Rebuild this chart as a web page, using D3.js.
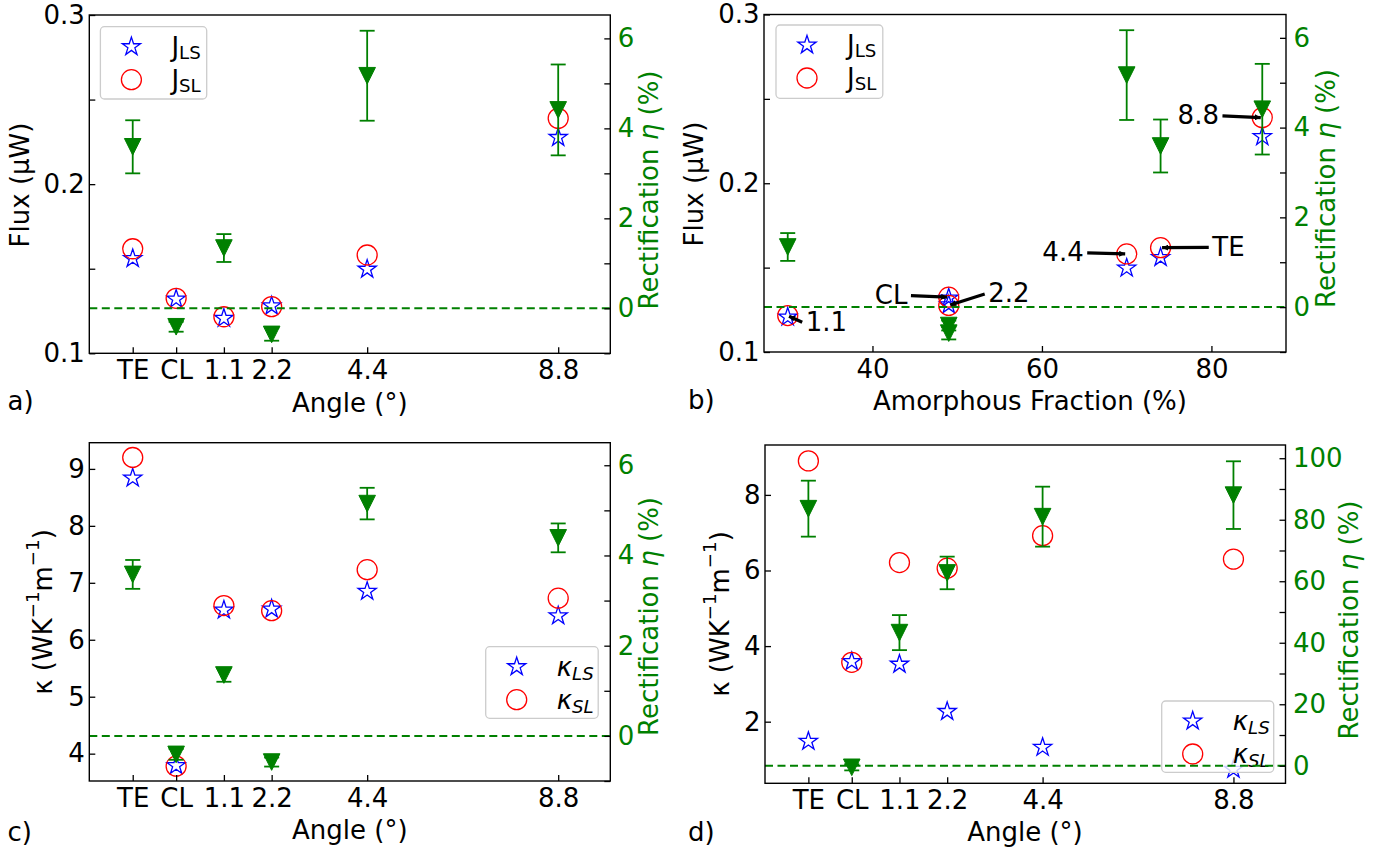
<!DOCTYPE html>
<html><head><meta charset="utf-8">
<script src="https://cdn.jsdelivr.net/npm/d3@7"></script>
<style>body{margin:0;background:#fff} svg text{font-family:"DejaVu Sans",sans-serif}</style>
</head><body><svg id="fig" width="1393" height="857"></svg>
<script>
// ---------------- data ----------------
const categories = ["TE", "CL", "1.1", "2.2", "4.4", "8.8"];
const anglePos = [-1, 0, 1.1, 2.2, 4.4, 8.8];
const amorphousFraction = [74, 49, 30, 49, 70, 86];
const amorphousTicks = [40, 60, 80];

const fluxLS = [0.156, 0.132, 0.1207, 0.128, 0.1497, 0.2276];
const fluxSL = [0.1618, 0.1325, 0.1216, 0.1276, 0.1581, 0.2389];
const rectFlux = [3.59, -0.41, 1.34, -0.58, 5.17, 4.41];
const rectFluxErr = [0.59, 0.11, 0.31, 0.14, 1.0, 1.01];

const kappaLS_c = [8.84, 3.79, 6.52, 6.54, 6.85, 6.42];
const kappaSL_c = [9.2, 3.78, 6.6, 6.51, 7.23, 6.73];
const rectKappa_c = [3.58, -0.41, 1.35, -0.58, 5.15, 4.39];
const rectKappaErr_c = [0.32, 0.12, 0.15, 0.1, 0.35, 0.32];

const kappaLS_d = [1.48, 3.59, 3.52, 2.27, 1.32, 0.74];
const kappaSL_d = [8.9, 3.57, 6.21, 6.06, 6.92, 6.3];
const rectKappa_d = [83.6, -0.5, 43.3, 62.7, 81, 88];
const rectKappaErr_d = [9.1, 1, 5.7, 5.3, 9.75, 11];

const fluxTicks = [0.1, 0.15, 0.2, 0.25, 0.3];
const rectTicks = [-1, 0, 1, 2, 3, 4, 5, 6];
const kappaTicks_c = [4, 5, 6, 7, 8, 9];
const kappaTicks_d = [2, 4, 6, 8];
const rectTicks_d = [0, 10, 20, 30, 40, 50, 60, 70, 80, 90, 100];

// annotations in panel b (label, text position in data coords like matplotlib xytext)
const annotations = [
  {cat: "8.8", tx: 80.89, ty: 0.2405, anchor: "end"},
  {cat: "TE",  tx: 80.1,  ty: 0.1626, anchor: "start"},
  {cat: "4.4", tx: 64.93, ty: 0.1593, anchor: "end"},
  {cat: "CL",  tx: 44.13, ty: 0.134,  anchor: "end"},
  {cat: "2.2", tx: 53.66, ty: 0.135,  anchor: "start"},
  {cat: "1.1", tx: 32.12, ty: 0.1182, anchor: "start"}
];

// ---------------- style / layout ----------------
const FS = 26;
const GREEN = "#008000", BLUE = "#0000ff", RED = "#ff0000";
const svg = d3.select("#fig");

svg.append("defs").append("marker")
  .attr("id", "ah").attr("viewBox", "0 -3 6 6").attr("refX", 6).attr("refY", 0)
  .attr("markerWidth", 6).attr("markerHeight", 6).attr("markerUnits", "userSpaceOnUse")
  .attr("orient", "auto")
  .append("path").attr("d", "M0,-3L6,0L0,3Z").attr("fill", "#000");

function starPath(R) {
  const pts = [];
  for (let i = 0; i < 10; i++) {
    const a = -Math.PI / 2 + i * Math.PI / 5;
    const r = i % 2 ? R * 0.381966 : R;
    pts.push([r * Math.cos(a), r * Math.sin(a)]);
  }
  return "M" + pts.map(p => p[0].toFixed(2) + "," + p[1].toFixed(2)).join("L") + "Z";
}
const STAR = starPath(9.6);
const TRI = "M-8.3,-8.3L8.3,-8.3L0,8.3Z";

function addRich(t, parts) {
  let shift = 0;
  parts.forEach(p => {
    const ts = t.append("tspan").text(p.t);
    let target = 0;
    if (p.sup) { target = -13; ts.attr("font-size", FS * 0.7); }
    if (p.sub) { target = p.sub; ts.attr("font-size", FS * 0.7); }
    if (p.it) ts.attr("font-style", "italic");
    if (target !== shift) { ts.attr("dy", target - shift); shift = target; }
  });
}

function styleAxis(sel, color) {
  sel.attr("font-family", null).attr("font-size", null);
  sel.select(".domain").remove();
  sel.selectAll(".tick line").attr("stroke", "#000").attr("stroke-width", 1.3);
  sel.selectAll(".tick text").attr("font-size", FS).attr("fill", color);
}

function drawPanel(c) {
  const B = c.box;
  const g = svg.append("g");
  const x = d3.scaleLinear().domain(c.xDomain).range([B.l, B.r]);
  const yL = d3.scaleLinear().domain(c.yLDomain).range([B.b, B.t]);
  const yR = d3.scaleLinear().domain(c.yRDomain).range([B.b, B.t]);
  const idx = d3.range(categories.length);

  // left-axis series
  g.append("g").selectAll("path").data(idx).join("path")
    .attr("d", STAR).attr("transform", i => `translate(${x(c.xv[i])},${yL(c.ls[i])})`)
    .attr("fill", "none").attr("stroke", BLUE).attr("stroke-width", 1.3);
  g.append("g").selectAll("circle").data(idx).join("circle")
    .attr("cx", i => x(c.xv[i])).attr("cy", i => yL(c.sl[i])).attr("r", 10)
    .attr("fill", "none").attr("stroke", RED).attr("stroke-width", 1.3);

  // annotations
  if (c.annot) {
    c.annot.forEach(a => {
      const i = categories.indexOf(a.cat);
      const px = x(c.xv[i]), py = yL(c.sl[i]);
      const tx = x(a.tx), ty = yL(a.ty);
      const t = g.append("text").attr("x", tx).attr("y", ty + 9.5)
        .attr("text-anchor", a.anchor).attr("font-size", FS).attr("fill", "#000").text(a.cat);
      const sx = a.anchor === "end" ? tx + 3.5 : tx - 3.5;
      const sy = ty + 1;
      const dx = px - sx, dy = py - sy, L = Math.hypot(dx, dy);
      const ex = px - dx / L * 1.5, ey = py - dy / L * 1.5;
      g.append("line").attr("x1", sx).attr("y1", sy).attr("x2", ex).attr("y2", ey)
        .attr("stroke", "#000").attr("stroke-width", 3.2).attr("marker-end", "url(#ah)");
    });
  }

  // legend
  const Lg = c.legend;
  const lg = g.append("g");
  lg.append("rect").attr("x", Lg.x).attr("y", Lg.y).attr("width", Lg.w).attr("height", Lg.h)
    .attr("rx", 4).attr("fill", "#fff").attr("fill-opacity", 0.8)
    .attr("stroke", "#cccccc").attr("stroke-width", 1.3);
  lg.append("path").attr("d", STAR).attr("transform", `translate(${Lg.x + 31},${Lg.y + 20})`)
    .attr("fill", "none").attr("stroke", BLUE).attr("stroke-width", 1.3);
  lg.append("circle").attr("cx", Lg.x + 31).attr("cy", Lg.y + 53).attr("r", 10)
    .attr("fill", "none").attr("stroke", RED).attr("stroke-width", 1.3);
  c.legendLabels.forEach((parts, k) => {
    const t = lg.append("text").attr("x", Lg.x + 71).attr("y", Lg.y + 20 + 33 * k + 9)
      .attr("font-size", FS).attr("fill", "#000");
    addRich(t, parts);
  });

  // right-axis series (twin axes drawn on top)
  g.append("line").attr("x1", B.l).attr("x2", B.r).attr("y1", yR(0)).attr("y2", yR(0))
    .attr("stroke", GREEN).attr("stroke-width", 2).attr("stroke-dasharray", "8,4.5");
  const eb = g.append("g").attr("stroke", GREEN).attr("stroke-width", 1.8);
  idx.forEach(i => {
    const xx = x(c.xv[i]);
    const y1 = yR(c.rect[i] - c.err[i]), y2 = yR(c.rect[i] + c.err[i]);
    eb.append("line").attr("x1", xx).attr("x2", xx).attr("y1", y1).attr("y2", y2);
    eb.append("line").attr("x1", xx - 7.5).attr("x2", xx + 7.5).attr("y1", y1).attr("y2", y1);
    eb.append("line").attr("x1", xx - 7.5).attr("x2", xx + 7.5).attr("y1", y2).attr("y2", y2);
  });
  g.append("g").selectAll("path").data(idx).join("path")
    .attr("d", TRI).attr("transform", i => `translate(${x(c.xv[i])},${yR(c.rect[i])})`)
    .attr("fill", GREEN).attr("stroke", GREEN).attr("stroke-width", 1);

  // axes
  const ax = g.append("g").attr("transform", `translate(0,${B.b})`)
    .call(d3.axisBottom(x).tickValues(c.xTicks).tickFormat(c.xFmt).tickSize(-6).tickSizeOuter(0).tickPadding(7.5));
  styleAxis(ax, "#000");
  const al = g.append("g").attr("transform", `translate(${B.l},0)`)
    .call(d3.axisLeft(yL).tickValues(c.yLTicks).tickFormat(c.yLFmt).tickSize(-6).tickSizeOuter(0).tickPadding(4.5));
  styleAxis(al, "#000");
  const ar = g.append("g").attr("transform", `translate(${B.r},0)`)
    .call(d3.axisRight(yR).tickValues(c.yRTicks).tickFormat(c.yRFmt).tickSize(-6).tickSizeOuter(0).tickPadding(7.5));
  styleAxis(ar, GREEN);

  g.append("rect").attr("x", B.l).attr("y", B.t).attr("width", B.r - B.l).attr("height", B.b - B.t)
    .attr("fill", "none").attr("stroke", "#000").attr("stroke-width", 1.4);

  // labels
  const xl = g.append("text").attr("x", c.xLabelPos[0]).attr("y", c.xLabelPos[1])
    .attr("text-anchor", "middle").attr("font-size", FS).attr("fill", "#000").text(c.xLabel);
  const yl = g.append("text").attr("transform", `translate(${c.yLLabelPos[0]},${c.yLLabelPos[1]}) rotate(-90)`)
    .attr("text-anchor", "middle").attr("font-size", FS).attr("fill", "#000");
  addRich(yl, c.yLLabel);
  const yr = g.append("text").attr("transform", `translate(${c.yRLabelPos[0]},${c.yRLabelPos[1]}) rotate(-90)`)
    .attr("text-anchor", "middle").attr("font-size", FS).attr("fill", GREEN);
  addRich(yr, [{t: "Rectification "}, {t: "η", it: true}, {t: " (%)"}]);
  g.append("text").attr("x", c.tagPos[0]).attr("y", c.tagPos[1]).attr("font-size", FS)
    .attr("fill", "#000").text(c.tag);
}

const fluxFmt = d => (Math.abs(d * 10 - Math.round(d * 10)) < 1e-6 ? d.toFixed(1) : "");
const rectFmt = d => (d >= 0 && d % 2 === 0 ? String(d) : "");
const catFmt = (d, i) => categories[i];
const fluxLabel = [{t: "Flux (µW)"}];
const kappaLabel = [{t: "κ (WK"}, {t: "−1", sup: true}, {t: "m"}, {t: "−1", sup: true}, {t: ")"}];
const jLegend = [[{t: "J"}, {t: "LS", sub: 3}], [{t: "J"}, {t: "SL", sub: 3}]];
const kLegend = [[{t: "κ", it: true}, {t: "LS", sub: 4, it: true}], [{t: "κ", it: true}, {t: "SL", sub: 4, it: true}]];

drawPanel({
  tag: "a)", tagPos: [7.5, 410],
  box: {l: 89.3, r: 610.3, t: 15, b: 353.3},
  xDomain: [-2, 10], xv: anglePos, xTicks: anglePos, xFmt: catFmt,
  yLDomain: [0.1, 0.3], yLTicks: fluxTicks, yLFmt: fluxFmt,
  yRDomain: [-1.0, 6.52], yRTicks: rectTicks, yRFmt: rectFmt,
  ls: fluxLS, sl: fluxSL, rect: rectFlux, err: rectFluxErr,
  legend: {x: 100.4, y: 26.7, w: 106.3, h: 72.3}, legendLabels: jLegend,
  xLabel: "Angle (°)", xLabelPos: [349.8, 412],
  yLLabel: fluxLabel, yLLabelPos: [28.5, 185],
  yRLabelPos: [658, 190]
});
drawPanel({
  tag: "b)", tagPos: [688, 409],
  box: {l: 764, r: 1286, t: 14.5, b: 352},
  xDomain: [27.2, 88.8], xv: amorphousFraction, xTicks: amorphousTicks, xFmt: d => String(d),
  yLDomain: [0.1, 0.3], yLTicks: fluxTicks, yLFmt: fluxFmt,
  yRDomain: [-1.0, 6.52], yRTicks: rectTicks, yRFmt: rectFmt,
  ls: fluxLS, sl: fluxSL, rect: rectFlux, err: rectFluxErr,
  annot: annotations,
  legend: {x: 776, y: 25, w: 106.8, h: 73.3}, legendLabels: jLegend,
  xLabel: "Amorphous Fraction (%)", xLabelPos: [1030, 410],
  yLLabel: fluxLabel, yLLabelPos: [703, 184],
  yRLabelPos: [1335, 188.5]
});
drawPanel({
  tag: "c)", tagPos: [7.5, 841],
  box: {l: 89.3, r: 610.3, t: 442.7, b: 781},
  xDomain: [-2, 10], xv: anglePos, xTicks: anglePos, xFmt: catFmt,
  yLDomain: [3.52, 9.46], yLTicks: kappaTicks_c, yLFmt: d => String(d),
  yRDomain: [-1.0, 6.5], yRTicks: rectTicks, yRFmt: rectFmt,
  ls: kappaLS_c, sl: kappaSL_c, rect: rectKappa_c, err: rectKappaErr_c,
  legend: {x: 485.7, y: 646.7, w: 112.5, h: 71.6}, legendLabels: kLegend,
  xLabel: "Angle (°)", xLabelPos: [349.8, 839],
  yLLabel: kappaLabel, yLLabelPos: [52.4, 612],
  yRLabelPos: [658, 616.5]
});
drawPanel({
  tag: "d)", tagPos: [688, 841],
  box: {l: 765, r: 1285.5, t: 445, b: 783.3},
  xDomain: [-2, 10], xv: anglePos, xTicks: anglePos, xFmt: catFmt,
  yLDomain: [0.37, 9.32], yLTicks: kappaTicks_d, yLFmt: d => String(d),
  yRDomain: [-5.7, 104.3], yRTicks: rectTicks_d, yRFmt: d => (d % 20 === 0 ? String(d) : ""),
  ls: kappaLS_d, sl: kappaSL_d, rect: rectKappa_d, err: rectKappaErr_d,
  legend: {x: 1161.7, y: 701, w: 112, h: 71.3}, legendLabels: kLegend,
  xLabel: "Angle (°)", xLabelPos: [1025, 840.5],
  yLLabel: kappaLabel, yLLabelPos: [728.5, 614],
  yRLabelPos: [1358, 620]
});
</script>
</body></html>
